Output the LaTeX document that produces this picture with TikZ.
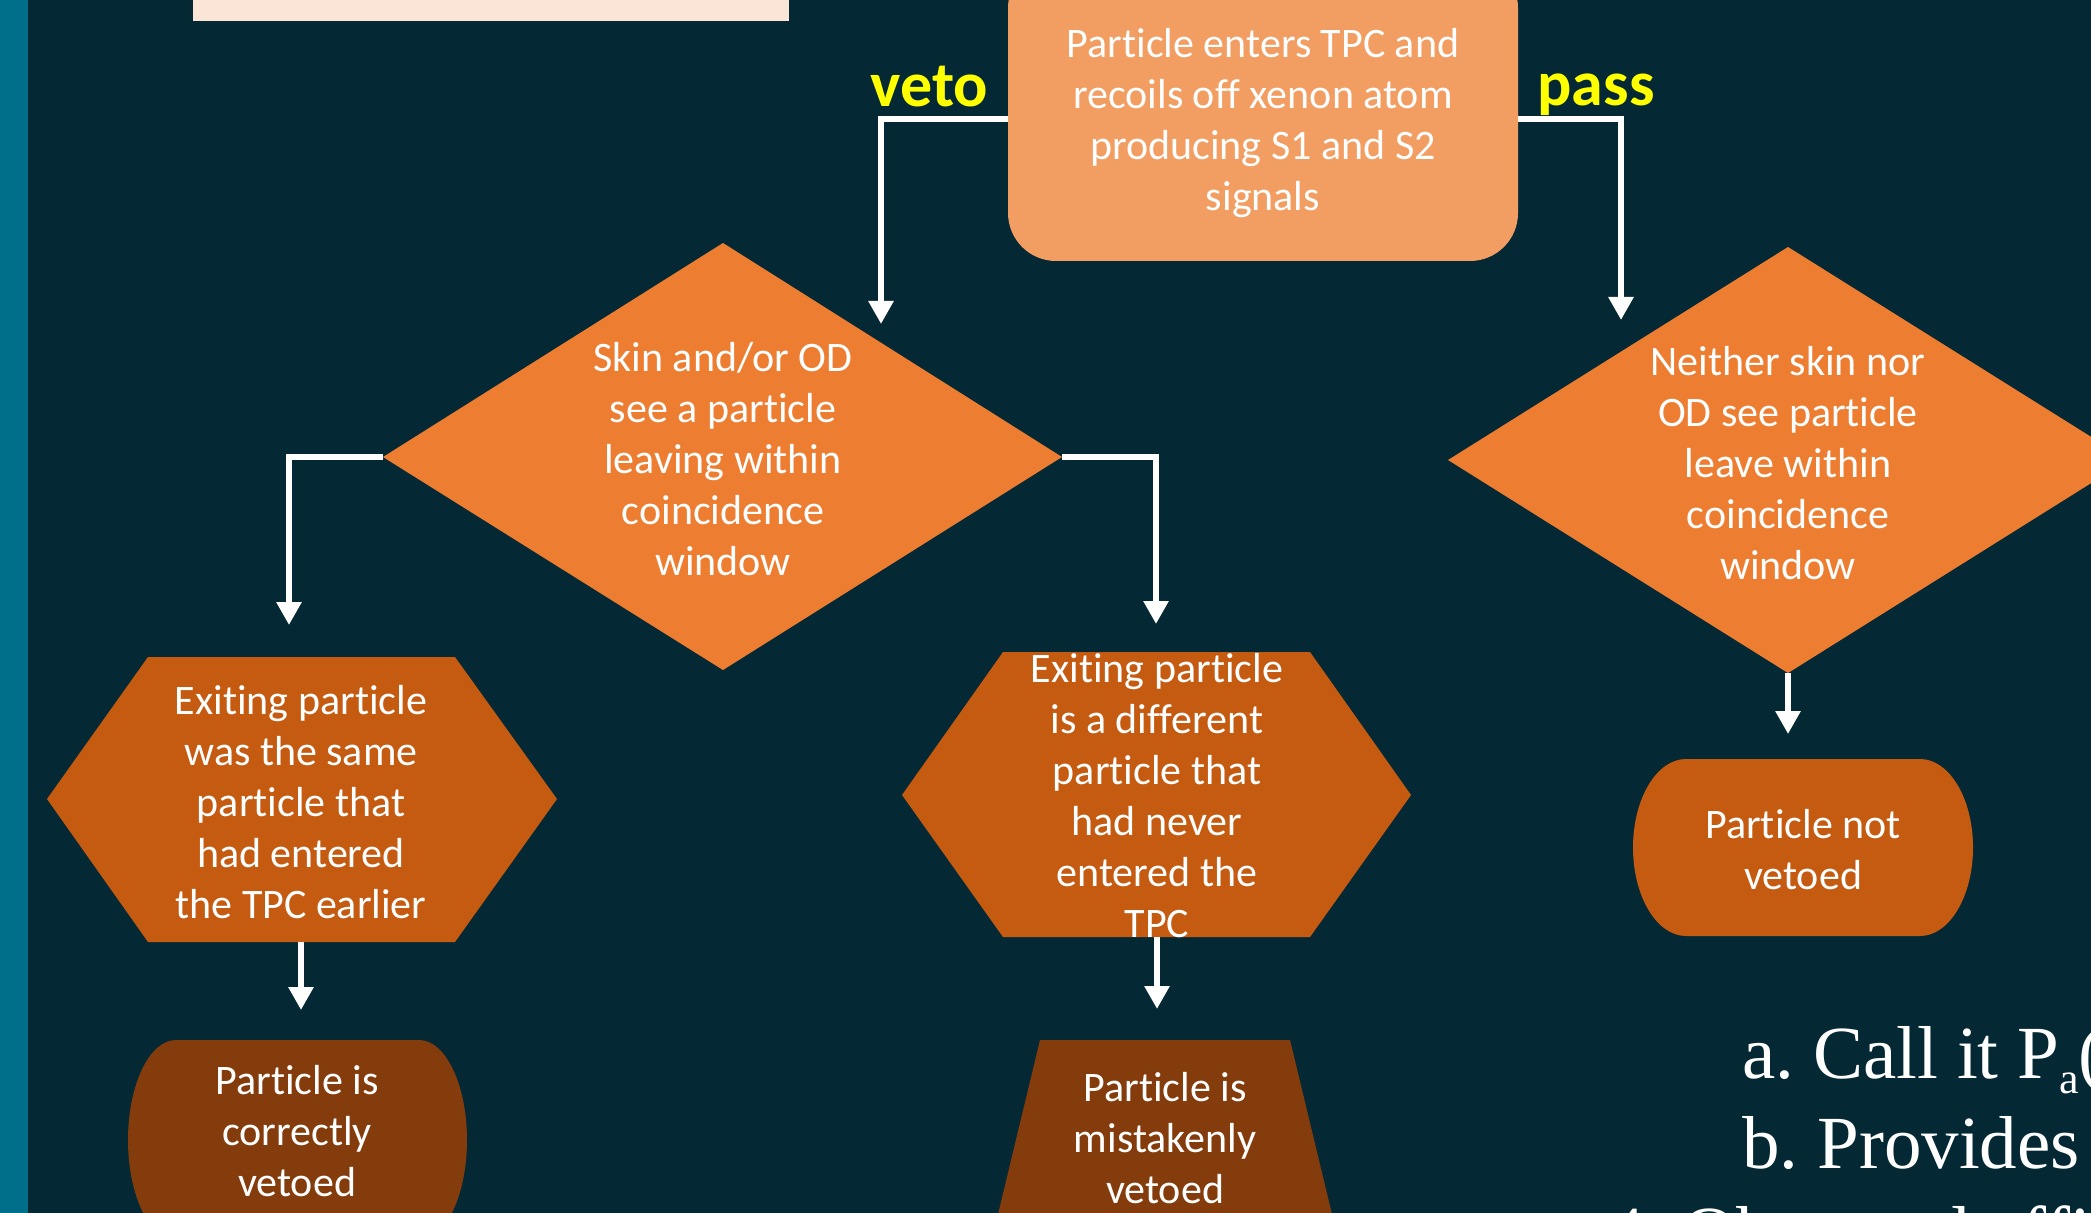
\documentclass[tikz,border=0pt]{standalone}
\usepackage{fontspec}
\setmainfont{Carlito}[Ligatures=NoCommon]
\newfontfamily\timesf{Liberation Serif}
\usetikzlibrary{arrows.meta}
\frenchspacing
\definecolor{bgc}{HTML}{052934}
\definecolor{barc}{HTML}{006F89}
\definecolor{peachc}{HTML}{FBE5D6}
\definecolor{topc}{HTML}{F29D61}
\definecolor{diac}{HTML}{ED7D31}
\definecolor{hexc}{HTML}{C55A11}
\definecolor{darkc}{HTML}{843C0C}
\definecolor{labc}{HTML}{FFFF00}
\begin{document}
\begin{tikzpicture}[x=0.5pt,y=-0.5pt,
  txt/.style={text=white, font=\fontsize{21}{25.5}\selectfont, align=center, inner sep=0pt,
    execute at begin node=\strut, execute at end node=\strut},
  lab/.style={text=labc, font=\fontsize{32}{38}\selectfont\bfseries, inner sep=0pt, anchor=base},
  serift/.style={text=white, font=\timesf\fontsize{37.5}{45}\selectfont, inner sep=0pt, anchor=base west},
  conn/.style={draw=white, line width=3pt, -{Triangle[width=12pt,length=11.5pt]}}]
\useasboundingbox (0,0) rectangle (2091,1213);
\clip (0,0) rectangle (2091,1213);
\fill[bgc] (0,0) rectangle (2091,1213);
\fill[barc] (0,0) rectangle (28,1213);
\fill[peachc] (193,-10) rectangle (789,21.5);

% shapes
\fill[topc, rounded corners=24pt] (1008,-40) rectangle (1518,261);
\fill[diac] (723,243) -- (1062,457) -- (723,670) -- (383,457) -- cycle;
\fill[diac] (1788,247) -- (2128,460) -- (1788,673) -- (1448,460) -- cycle;
\fill[hexc] (148,657) -- (455,657) -- (557,799) -- (455,942) -- (148,942) -- (47,799) -- cycle;
\fill[hexc] (1003,652) -- (1310,652) -- (1411,795) -- (1310,937) -- (1003,937) -- (902,795) -- cycle;
\fill[darkc] (176,1040) -- (419,1040) arc[start angle=-90, end angle=90, x radius=48, y radius=100]
  -- (176,1240) arc[start angle=90, end angle=270, x radius=48, y radius=100] -- cycle;
\fill[darkc] (1040,1040) -- (1290,1040) -- (1343,1260) -- (987,1260) -- cycle;
\fill[hexc] (1686,759) -- (1920,759) arc[start angle=-90, end angle=90, x radius=53, y radius=88.5]
  -- (1686,936) arc[start angle=90, end angle=270, x radius=53, y radius=88.5] -- cycle;

% texts
\node[txt] (start) at (1263,127.3) {Particle enters TPC and\\recoils off xenon atom\\producing S1 and S2\\signals};
\node[txt] (seen) at (723,466.3) {Skin and/or OD\\see a particle\\leaving within\\coincidence\\window};
\node[txt] (notseen) at (1788,470.3) {Neither skin nor\\OD see particle\\leave within\\coincidence\\window};
\node[txt] (same) at (301,809.3) {Exiting particle\\was the same\\particle that\\had entered\\the TPC earlier};
\node[txt] (diff) at (1157,803.3) {Exiting particle\\is a different\\particle that\\had never\\entered the\\TPC};
\node[txt] (correct) at (297,1138.3) {Particle is\\correctly\\vetoed};
\node[txt] (mistake) at (1165,1145.8) {Particle is\\mistakenly\\vetoed};
\node[txt] (notveto) at (1803,857.3) {Particle not\\vetoed};
\node[lab] (vetolab) at (929.5,107) {veto};
\node[lab] (passlab) at (1596,106) {pass};
\node[serift] (linea) at (1742,1078) {a. Call it P\raisebox{-7.5pt}{\fontsize{22}{26}\selectfont a}(};
\node[serift] (lineb) at (1742,1168) {b. Provides};
\node[serift] (linec) at (1607,1258) {4. Observed efficiency};

% connector ends
\coordinate (tbL) at (1008,119);
\coordinate (tbR) at (1518,119);
\coordinate (vetoEnd) at (881,324);
\coordinate (passEnd) at (1621,320);
\coordinate (dLl) at (383,457);
\coordinate (dLr) at (1062,457);
\coordinate (sameEnd) at (289,625);
\coordinate (diffEnd) at (1156,624);
\coordinate (hLb) at (301,942);
\coordinate (hLend) at (301,1010);
\coordinate (hRb) at (1157,937);
\coordinate (hRend) at (1157,1009);
\coordinate (dRb) at (1788,673);
\coordinate (dRend) at (1788,734);

\draw[conn] (tbL) -| (vetoEnd);
\draw[conn] (tbR) -| (passEnd);
\draw[conn] (dLl) -| (sameEnd);
\draw[conn] (dLr) -| (diffEnd);
\draw[conn] (hLb) -- (hLend);
\draw[conn] (hRb) -- (hRend);
\draw[conn] (dRb) -- (dRend);
\end{tikzpicture}
\end{document}
